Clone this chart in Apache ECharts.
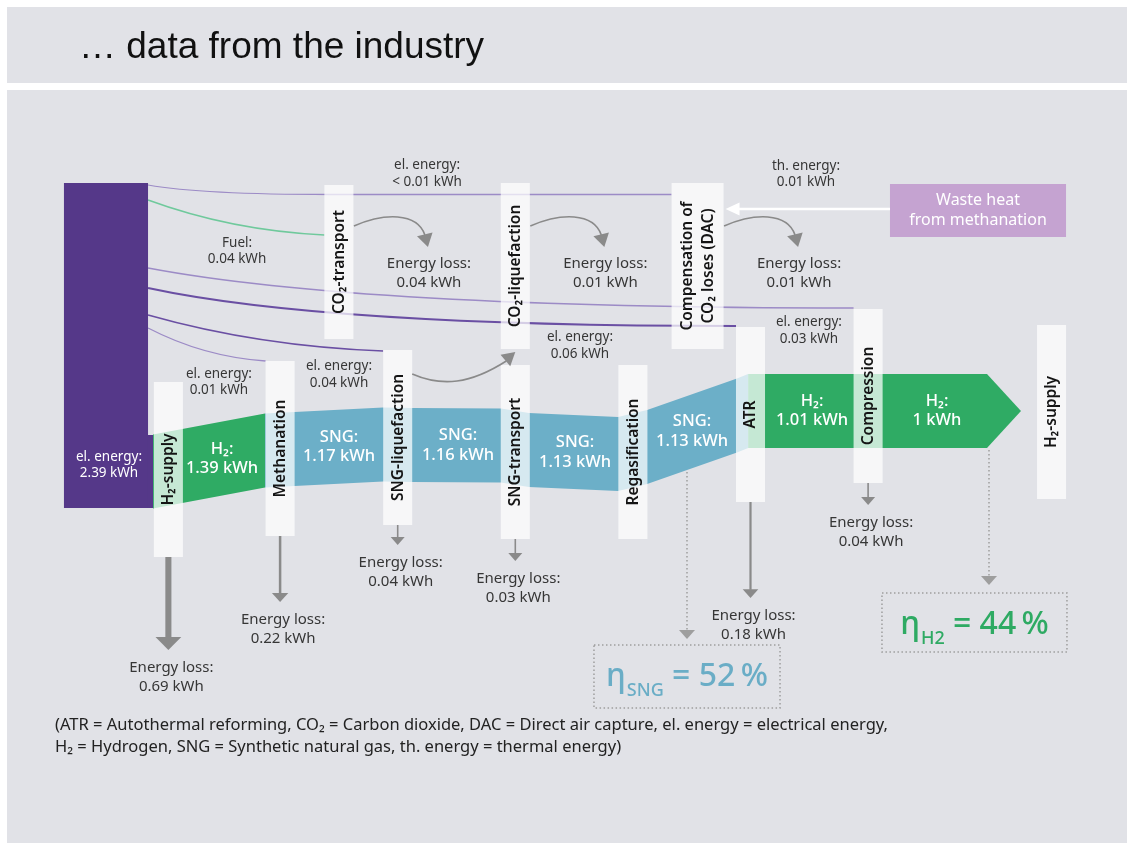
<!DOCTYPE html>
<html>
<head>
<meta charset="utf-8">
<title>Energy chain: hydrogen via SNG</title>
<script src="https://cdn.jsdelivr.net/npm/echarts@6/dist/echarts.min.js"></script>
<style>
  html, body { margin: 0; padding: 0; background: #ffffff; }
  #chart { width: 1127px; height: 843px; }
</style>
</head>
<body>
<div id="chart"></div>
<script>
// ---------------- energy values (kWh per kWh of delivered H2) ----------------
const inputName = 'el. energy';
const inputValue = 2.39;

const flowCarriers = ['H₂', 'SNG', 'SNG', 'SNG', 'SNG', 'H₂', 'H₂'];
const flowValues   = [1.39, 1.17, 1.16, 1.13, 1.13, 1.01, 1];

const processNames = [
  'H₂-supply', 'Methanation', 'SNG-liquefaction', 'SNG-transport', 'Regasification',
  'ATR', 'Compression', 'H₂-supply',
  'CO₂-transport', 'CO₂-liquefaction', 'Compensation of\nCO₂ loses (DAC)'
];

const lossProcess = [0, 1, 2, 3, 5, 6];
const lossValues  = [0.69, 0.22, 0.04, 0.03, 0.18, 0.04];

const co2LossProcess = [8, 9, 10];
const co2LossValues  = [0.04, 0.01, 0.01];

const feedNames   = ['el. energy', 'Fuel', 'el. energy', 'el. energy', 'el. energy', 'el. energy'];
const feedQual    = ['< ', '', '', '', '', ''];
const feedValues  = [0.01, 0.04, 0.03, 0.06, 0.04, 0.01];
const feedTargets = [10, 8, 6, 5, 2, 1];

const heatName = 'th. energy';
const heatValue = 0.01;
const heatSource = 'Waste heat\nfrom methanation';

const effNames  = ['SNG', 'H2'];
const effValues = [52, 44];

const titleText = '… data from the industry';
const footnote = '(ATR = Autothermal reforming, CO₂ = Carbon dioxide, DAC = Direct air capture, el. energy = electrical energy,\nH₂ = Hydrogen, SNG = Synthetic natural gas, th. energy = thermal energy)';

// ---------------- layout: x in process stages, y in drawing units (top-down) ----------------
const VIEW_W = 1127, VIEW_H = 843;
const STAGE0_PX = 162.5, STAGE_PX = 117.6;
const BOX_W = 0.247;
const BAND_HALF = 37;

const boxLayout = [
  { stage: 0.05, top: 382, bottom: 557 },
  { stage: 1,    top: 361, bottom: 536 },
  { stage: 2,    top: 350, bottom: 525 },
  { stage: 3,    top: 365, bottom: 539 },
  { stage: 4,    top: 365, bottom: 539 },
  { stage: 5,    top: 327, bottom: 502 },
  { stage: 6,    top: 309, bottom: 483 },
  { stage: 7.56, top: 325, bottom: 499 },
  { stage: 1.5,  top: 185, bottom: 339 },
  { stage: 3,    top: 183, bottom: 349 },
  { stage: 4.55, top: 183, bottom: 349, w: 0.442 }
];

const barLayout = { left: -0.838, right: -0.123, top: 183, bottom: 508, stepRight: -0.081, stepTop: 435, labelStage: -0.455, labelY: 465 };

// centre line of the main flow band
const spine = [
  [-0.081, 471.5], [0.872, 450.5], [1.875, 444.5], [2.122, 445], [2.878, 445.5],
  [3.116, 450], [3.874, 454], [4.121, 447], [4.885, 415.5], [4.98, 411], [7.011, 411]
];
const flowSpans = [[-0.081, 0.872], [0.872, 1.875], [1.875, 2.878], [2.878, 3.874], [3.874, 4.98], [4.98, 6.0], [6.0, 7.011]];
const flowLabelStage = [0.506, 1.501, 2.513, 3.508, 4.503, 5.523, 6.586];
const ARROW_TIP = 7.30;

const feedLayout = [
  { y0: 185, y1: 194.5, bend: 1.424, kx: 0.3,  ky: 1,    label: [2.25, 173.5] },
  { y0: 200, y1: 235,   bend: null,  kx: 0.47, ky: 0.87, label: [0.634, 251] },
  { y0: 268, y1: 308,   bend: null,  kx: 0.3,  ky: 1,    label: [5.497, 330.5] },
  { y0: 288, y1: 326,   bend: null,  kx: 0.3,  ky: 1,    label: [3.55, 345.5] },
  { y0: 315, y1: 351,   bend: null,  kx: 0.47, ky: 0.87, label: [1.501, 374.5] },
  { y0: 328, y1: 361,   bend: null,  kx: 0.47, ky: 0.87, label: [0.48, 382] }
];

const lossLength = [93, 66, 20, 22, 96, 22];
const CO2_LOSS_Y = 226;
const coldLink = { fromBox: 2, y: 374, toBox: 9, tipGap: 3 };

const heatLayout = { left: 6.186, right: 7.683, top: 184, bottom: 237, arrowY: 209, toBox: 10, label: [5.472, 174] };

const effLayout = [
  { left: 3.669, right: 5.251, top: 645, bottom: 708, pointer: 4.46, pointerTip: 639, color: '#6aadc6' },
  { left: 6.118, right: 7.691, top: 593, bottom: 652, pointer: 7.028, pointerTip: 585, color: '#2eaa63' }
];

const C = {
  panel: '#e1e2e7', purple: '#553889', feedLight: '#9c8bc6', feedDark: '#6a4fa3', fuel: '#6fc99c',
  h2: '#2fab64', sng: '#6cafc8', box: 'rgba(255,255,255,0.72)', boxText: '#141414',
  text: '#363636', arrow: '#8a8a8a', dotted: '#9e9e9e', heat: '#c5a3d1'
};
const FONT = '"Noto Sans", "Open Sans", sans-serif';

// ---------------- helpers ----------------
const kwh = v => `${v} kWh`;

function spineAt(s) {
  if (s <= spine[0][0]) return spine[0][1];
  for (let i = 1; i < spine.length; i++) {
    if (s <= spine[i][0]) {
      const [s0, y0] = spine[i - 1], [s1, y1] = spine[i];
      return y0 + (y1 - y0) * (s - s0) / (s1 - s0);
    }
  }
  return spine[spine.length - 1][1];
}

function txt(p, text, o = {}) {
  const size = o.size || 14;
  return {
    type: 'text', x: p[0], y: p[1], rotation: o.rotation || 0,
    style: {
      text, fill: o.fill || C.text, fontSize: size, fontFamily: o.family || FONT,
      fontWeight: o.weight || 'normal', align: o.align || 'center',
      verticalAlign: o.va || 'middle', lineHeight: o.lh || Math.round(size * 1.2)
    }
  };
}

function headPts(tip, from, len, halfW) {
  const dx = tip[0] - from[0], dy = tip[1] - from[1];
  const d = Math.hypot(dx, dy) || 1;
  const ux = dx / d, uy = dy / d;
  const bx = tip[0] - ux * len, by = tip[1] - uy * len;
  return [[tip[0], tip[1]], [bx - uy * halfW, by + ux * halfW], [bx + uy * halfW, by - ux * halfW]];
}

const boxLeft = i => boxLayout[i].stage - (boxLayout[i].w || BOX_W) / 2;
const boxRight = i => boxLayout[i].stage + (boxLayout[i].w || BOX_W) / 2;

const mctx = document.createElement('canvas').getContext('2d');
function textWidth(str, size, weight) {
  mctx.font = `${weight} ${size}px "Noto Sans"`;
  return mctx.measureText(str).width;
}

const idx = arr => arr.map((_, i) => [i, 0]);

// ---------------- series ----------------
const feedSeries = {
  type: 'custom', z: 1, silent: true, data: idx(feedValues),
  renderItem(params, api) {
    const i = params.dataIndex, L = feedLayout[i];
    const endStage = boxLeft(feedTargets[i]);
    const p0 = api.coord([barLayout.right, L.y0]);
    const p1 = api.coord([L.bend != null ? L.bend : endStage, L.y1]);
    const pe = api.coord([endStage, L.y1]);
    const c = [p0[0] + L.kx * (p1[0] - p0[0]), p0[1] + L.ky * (p1[1] - p0[1])];
    let d = `M${p0[0]} ${p0[1]} Q${c[0]} ${c[1]} ${p1[0]} ${p1[1]}`;
    if (pe[0] > p1[0] + 0.5) d += ` L${pe[0]} ${pe[1]}`;
    const isFuel = feedNames[i] === 'Fuel';
    const v = feedValues[i];
    const stroke = isFuel ? C.fuel : (v >= 0.04 ? C.feedDark : C.feedLight);
    const lw = isFuel ? 1.5 : 1.1 + v * 16;
    return {
      type: 'group', children: [
        { type: 'path', shape: { pathData: d }, style: { fill: 'none', stroke, lineWidth: lw } },
        txt(api.coord(L.label), `${feedNames[i]}:\n${feedQual[i]}${kwh(v)}`, { size: 13.5, lh: 16.5 })
      ]
    };
  }
};

const bandSeries = {
  type: 'custom', z: 2, silent: true, data: idx(flowValues),
  renderItem(params, api) {
    const i = params.dataIndex;
    const [a, b] = flowSpans[i];
    const stops = [a, ...spine.map(p => p[0]).filter(s => s > a + 1e-6 && s < b - 1e-6), b];
    const top = stops.map(s => api.coord([s, spineAt(s) - BAND_HALF]));
    const bot = stops.map(s => api.coord([s, spineAt(s) + BAND_HALF])).reverse();
    let pts = top;
    if (i === flowValues.length - 1) pts = pts.concat([api.coord([ARROW_TIP, spineAt(b)])]);
    pts = pts.concat(bot);
    const fill = flowCarriers[i] === 'SNG' ? C.sng : C.h2;
    const ls = flowLabelStage[i];
    return {
      type: 'group', children: [
        { type: 'polygon', shape: { points: pts }, style: { fill } },
        txt(api.coord([ls, spineAt(ls)]), `${flowCarriers[i]}:\n${kwh(flowValues[i])}`,
            { size: 16.5, lh: 19.5, fill: '#ffffff', weight: 500 })
      ]
    };
  }
};

const inputSeries = {
  type: 'custom', z: 3, silent: true, data: [[0, 0]],
  renderItem(params, api) {
    const B = barLayout;
    const a = api.coord([B.left, B.top]), b = api.coord([B.right, B.bottom]);
    const c = api.coord([B.right, B.stepTop]), d = api.coord([B.stepRight, B.bottom]);
    return {
      type: 'group', children: [
        { type: 'rect', shape: { x: a[0], y: a[1], width: b[0] - a[0], height: b[1] - a[1] }, style: { fill: C.purple } },
        { type: 'rect', shape: { x: c[0] - 0.5, y: c[1], width: d[0] - c[0] + 0.5, height: d[1] - c[1] }, style: { fill: C.purple } },
        txt(api.coord([B.labelStage, B.labelY]), `${inputName}:\n${kwh(inputValue)}`, { size: 13.5, lh: 16.5, fill: '#ffffff' })
      ]
    };
  }
};

const boxSeries = {
  type: 'custom', z: 4, silent: true, data: idx(processNames),
  renderItem(params, api) {
    const i = params.dataIndex, L = boxLayout[i];
    const a = api.coord([boxLeft(i), L.top]), b = api.coord([boxRight(i), L.bottom]);
    const c = api.coord([L.stage, (L.top + L.bottom) / 2]);
    return {
      type: 'group', children: [
        { type: 'rect', shape: { x: a[0], y: a[1], width: b[0] - a[0], height: b[1] - a[1] }, style: { fill: C.box } },
        txt([c[0] + 0.5, c[1]], processNames[i], { size: 15.5, weight: 600, fill: C.boxText, rotation: Math.PI / 2, lh: 21 })
      ]
    };
  }
};

const lossSeries = {
  type: 'custom', z: 5, silent: true, data: idx(lossValues),
  renderItem(params, api) {
    const i = params.dataIndex, v = lossValues[i], L = boxLayout[lossProcess[i]];
    const p = api.coord([L.stage, L.bottom]);
    const tipY = p[1] + lossLength[i];
    const over = Math.max(0, v - 0.1);
    const shaftW = 1.6 + over * 7.6;
    const headW = 14 + over * 20;
    const headL = 8 + over * 8.5;
    const x = p[0];
    return {
      type: 'group', children: [
        { type: 'rect', shape: { x: x - shaftW / 2, y: p[1], width: shaftW, height: lossLength[i] - headL + 0.5 }, style: { fill: C.arrow } },
        { type: 'polygon', shape: { points: [[x, tipY], [x - headW / 2, tipY - headL], [x + headW / 2, tipY - headL]] }, style: { fill: C.arrow } },
        txt([x + 3, tipY + 8], `Energy loss:\n${kwh(v)}`, { size: 15, lh: 19, va: 'top' })
      ]
    };
  }
};

const co2LossSeries = {
  type: 'custom', z: 5, silent: true, data: idx(co2LossValues),
  renderItem(params, api) {
    const i = params.dataIndex;
    const s = api.coord([boxRight(co2LossProcess[i]), CO2_LOSS_Y]);
    const x = s[0] + 0.5, y = s[1];
    const end = [x + 71, y + 9];
    const d = `M${x} ${y} C${x + 30} ${y - 13} ${x + 63} ${y - 14} ${end[0]} ${end[1]}`;
    return {
      type: 'group', children: [
        { type: 'path', shape: { pathData: d }, style: { fill: 'none', stroke: C.arrow, lineWidth: 1.6 } },
        { type: 'polygon', shape: { points: headPts([x + 74, y + 21], [x + 70, y + 5], 13, 8) }, style: { fill: C.arrow } },
        txt([x + 75, y + 47], `Energy loss:\n${kwh(co2LossValues[i])}`, { size: 15, lh: 19 })
      ]
    };
  }
};

const coldSeries = {
  type: 'custom', z: 5, silent: true, data: [[0, 0]],
  renderItem(params, api) {
    const s = api.coord([boxRight(coldLink.fromBox), coldLink.y]);
    const t = api.coord([boxLayout[coldLink.toBox].stage, boxLayout[coldLink.toBox].bottom + coldLink.tipGap]);
    const e = [t[0] - 9, t[1] + 9];
    const d = `M${s[0]} ${s[1]} C${s[0] + 30} ${s[1] + 13} ${t[0] - 45} ${t[1] + 32} ${e[0]} ${e[1]}`;
    return {
      type: 'group', children: [
        { type: 'path', shape: { pathData: d }, style: { fill: 'none', stroke: C.arrow, lineWidth: 1.6 } },
        { type: 'polygon', shape: { points: headPts(t, [t[0] - 20, t[1] + 17], 13, 7.5) }, style: { fill: C.arrow } }
      ]
    };
  }
};

const heatSeries = {
  type: 'custom', z: 5, silent: true, data: [[0, 0]],
  renderItem(params, api) {
    const H = heatLayout;
    const a = api.coord([H.left, H.top]), b = api.coord([H.right, H.bottom]);
    const start = api.coord([H.left, H.arrowY]);
    const tip = api.coord([boxRight(H.toBox), H.arrowY]);
    tip[0] += 2;
    return {
      type: 'group', children: [
        { type: 'rect', shape: { x: a[0], y: a[1], width: b[0] - a[0], height: b[1] - a[1] }, style: { fill: C.heat } },
        txt([(a[0] + b[0]) / 2, (a[1] + b[1]) / 2], heatSource, { size: 16, lh: 20, fill: '#ffffff' }),
        { type: 'line', shape: { x1: start[0], y1: start[1], x2: tip[0] + 12, y2: tip[1] }, style: { stroke: '#ffffff', lineWidth: 2.5 } },
        { type: 'polygon', shape: { points: [[tip[0], tip[1]], [tip[0] + 14, tip[1] - 6.5], [tip[0] + 14, tip[1] + 6.5]] }, style: { fill: '#ffffff' } },
        txt(api.coord(H.label), `${heatName}:\n${kwh(heatValue)}`, { size: 13.5, lh: 16.5 })
      ]
    };
  }
};

const effSeries = {
  type: 'custom', z: 5, silent: true, data: idx(effValues),
  renderItem(params, api) {
    const i = params.dataIndex, L = effLayout[i];
    const a = api.coord([L.left, L.top]), b = api.coord([L.right, L.bottom]);
    const pt = api.coord([L.pointer, L.pointerTip]);
    const ps = api.coord([L.pointer, spineAt(L.pointer) + BAND_HALF]);
    const mainSize = 32, subSize = 18;
    const partA = 'η', partB = effNames[i], partC = ` = ${effValues[i]}\u2009%`;
    const wA = textWidth(partA, mainSize, 500);
    const wB = textWidth(partB, subSize, 500);
    const wC = textWidth(partC, mainSize, 500);
    const total = wA + 1 + wB + wC;
    const x0 = (a[0] + b[0]) / 2 - total / 2;
    const base = a[1] + 43;   // alphabetic baseline of the main text
    const t = (x, str, size, dy) => ({
      type: 'text', x, y: base + dy - 0.34 * size,
      style: { text: str, fill: L.color, fontSize: size, fontFamily: FONT, fontWeight: 500, align: 'left', verticalAlign: 'middle' }
    });
    return {
      type: 'group', children: [
        { type: 'rect', shape: { x: a[0], y: a[1], width: b[0] - a[0], height: b[1] - a[1] },
          style: { fill: 'none', stroke: C.dotted, lineWidth: 1.5, lineDash: [1.5, 2.5] } },
        { type: 'line', shape: { x1: pt[0], y1: ps[1] + 2, x2: pt[0], y2: pt[1] - 8 },
          style: { stroke: C.dotted, lineWidth: 1.5, lineDash: [1.5, 2.5] } },
        { type: 'polygon', shape: { points: [[pt[0], pt[1]], [pt[0] - 8, pt[1] - 9], [pt[0] + 8, pt[1] - 9]] }, style: { fill: C.dotted } },
        t(x0, partA, mainSize, 0),
        t(x0 + wA + 1, partB, subSize, 9),
        t(x0 + wA + 1 + wB, partC, mainSize, 0)
      ]
    };
  }
};

// ---------------- chart ----------------
const chart = echarts.init(document.getElementById('chart'), null, { renderer: 'canvas', width: VIEW_W, height: VIEW_H });
chart.setOption({
  backgroundColor: '#ffffff',
  animation: false,
  grid: { left: 0, right: 0, top: 0, bottom: 0 },
  xAxis: { type: 'value', min: -STAGE0_PX / STAGE_PX, max: (VIEW_W - STAGE0_PX) / STAGE_PX, show: false },
  yAxis: { type: 'value', min: 0, max: VIEW_H, inverse: true, show: false },
  graphic: [
    { type: 'rect', z: -10, silent: true, shape: { x: 7, y: 7, width: 1120, height: 76 }, style: { fill: C.panel } },
    { type: 'rect', z: -10, silent: true, shape: { x: 7, y: 90, width: 1120, height: 753 }, style: { fill: C.panel } },
    { type: 'text', z: -5, silent: true, x: 79, y: 48,
      style: { text: titleText, fill: '#111111', fontSize: 37, fontFamily: '"Liberation Sans", Arial, sans-serif', verticalAlign: 'middle', align: 'left' } },
    { type: 'text', z: -5, silent: true, x: 55, y: 714,
      style: { text: footnote, fill: '#222222', fontSize: 16.5, fontFamily: FONT, lineHeight: 22, verticalAlign: 'top', align: 'left' } }
  ],
  series: [feedSeries, bandSeries, inputSeries, boxSeries, lossSeries, co2LossSeries, coldSeries, heatSeries, effSeries]
});
</script>
</body>
</html>
